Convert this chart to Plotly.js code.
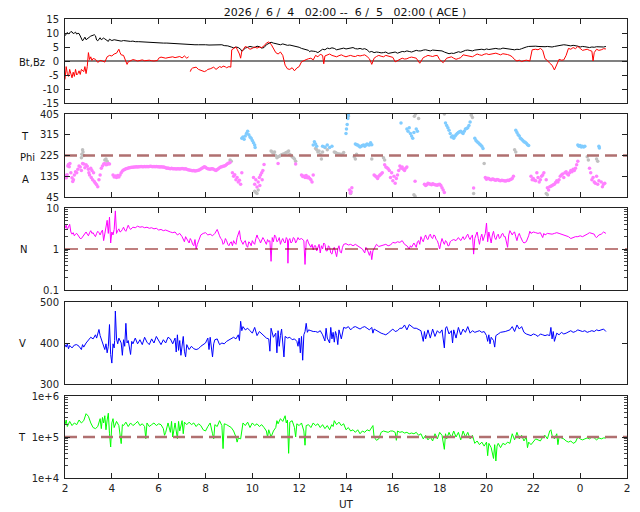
<!DOCTYPE html>
<html><head><meta charset="utf-8">
<script src="https://cdn.plot.ly/plotly-3.0.1.min.js"></script>
<style>html,body{margin:0;padding:0;background:#fff}#chart{width:640px;height:512px}</style>
</head><body><div id="chart"></div>
<script>
// ---------- tick labels ----------
const hourTicks = [2,4,6,8,10,12,14,16,18,20,22,24,26];
const hourLabels = ['2','4','6','8','10','12','14','16','18','20','22','0','2'];
const xRange = [2, 26];
const bTicks = [-15,-10,-5,0,5,10,15];
const bLabels = ['-15','-10','-5','0','5','10','15'];
const phiTicks = [45,135,225,315,405];
const nTicks = [0.1,1,10];
const nLabels = ['0.1','1','10'];
const vTicks = [300,400,500];
const tTicks = [1e4,1e5,1e6];
const tLabels = ['1e+4','1e+5','1e+6'];
const refB = 0, refPhi = 225, refN = 1, refT = 1e5;

// ---------- Bt [hour, nT] ----------
const btPts = [[2.0,9.0],[2.05,9.8],[2.1,10.2],[2.15,9.6],[2.2,9.9],[2.25,10.5],[2.3,10.4],[2.35,9.8],[2.4,10.0],[2.45,10.3],[2.5,9.6],[2.55,9.9],[2.6,9.8],[2.65,9.0],[2.7,8.0],[2.75,7.2],[2.8,7.8],[2.85,8.5],[2.9,7.6],[2.95,8.0],[3.0,8.2],[3.05,8.6],[3.1,8.9],[3.2,9.2],[3.25,9.4],[3.3,9.0],[3.35,7.5],[3.4,7.2],[3.45,8.0],[3.5,8.3],[3.55,7.6],[3.6,7.8],[3.65,8.2],[3.7,7.9],[3.8,7.4],[3.85,7.0],[3.9,7.8],[3.95,7.6],[4.0,7.3],[4.1,7.6],[4.2,7.4],[4.3,7.2],[4.4,7.1],[4.5,7.3],[4.6,7.2],[4.7,7.0],[4.8,7.0],[4.9,7.1],[5.0,6.9],[5.15,6.9],[5.3,6.8],[5.45,6.7],[5.6,6.6],[5.75,6.6],[5.9,6.5],[6.05,6.5],[6.2,6.4],[6.35,6.4],[6.5,6.3],[6.65,6.3],[6.8,6.2],[6.95,6.1],[7.1,6.1],[7.25,6.0],[7.4,5.9],[7.55,5.8],[7.7,5.8],[7.85,5.9],[8.0,5.8],[8.15,5.7],[8.3,5.7],[8.45,5.6],[8.6,5.6],[8.7,5.8],[8.8,5.5],[8.95,5.4],[9.1,5.0],[9.2,4.7],[9.3,5.0],[9.4,4.8],[9.5,4.2],[9.55,3.5],[9.6,3.8],[9.65,4.3],[9.7,4.6],[9.8,4.9],[9.9,5.2],[10.0,5.0],[10.1,4.8],[10.2,5.3],[10.3,5.1],[10.4,4.6],[10.5,4.8],[10.6,5.8],[10.7,6.3],[10.75,6.6],[10.8,6.7],[10.9,6.4],[11.0,6.2],[11.1,6.0],[11.2,5.8],[11.3,6.1],[11.4,5.8],[11.5,5.6],[11.6,5.7],[11.7,5.5],[11.8,5.4],[11.9,5.2],[12.0,4.9],[12.1,4.5],[12.2,4.3],[12.3,4.0],[12.4,3.8],[12.45,3.3],[12.5,3.6],[12.6,3.5],[12.7,3.4],[12.8,3.0],[12.85,3.3],[12.9,3.6],[13.0,4.2],[13.1,4.0],[13.2,4.6],[13.3,4.4],[13.4,4.7],[13.5,4.5],[13.6,4.0],[13.7,4.2],[13.8,4.5],[13.9,4.6],[14.0,4.3],[14.1,4.4],[14.2,4.6],[14.3,4.8],[14.4,4.4],[14.5,4.3],[14.6,4.5],[14.7,4.2],[14.8,4.4],[14.9,4.0],[15.0,3.2],[15.1,3.4],[15.2,3.0],[15.3,3.2],[15.4,3.1],[15.5,2.9],[15.6,3.0],[15.7,3.2],[15.8,2.7],[15.9,2.9],[16.0,3.0],[16.1,3.2],[16.2,2.8],[16.3,3.0],[16.4,3.4],[16.5,3.3],[16.6,3.6],[16.7,3.4],[16.8,3.2],[16.9,3.5],[17.0,3.8],[17.1,3.6],[17.2,3.6],[17.3,3.9],[17.4,4.0],[17.5,3.8],[17.6,3.6],[17.7,3.9],[17.8,3.8],[17.9,3.6],[18.0,3.5],[18.1,3.6],[18.2,3.2],[18.3,2.8],[18.4,2.6],[18.5,2.8],[18.6,2.7],[18.7,3.0],[18.8,3.3],[18.9,3.1],[19.0,3.5],[19.1,3.8],[19.2,3.9],[19.3,3.7],[19.4,3.6],[19.5,3.9],[19.6,4.0],[19.7,4.2],[19.8,4.2],[19.9,4.0],[20.0,4.3],[20.1,4.1],[20.2,4.2],[20.3,4.4],[20.4,4.5],[20.5,4.3],[20.6,4.3],[20.7,4.6],[20.8,4.5],[20.9,4.3],[21.0,4.2],[21.1,4.1],[21.2,4.0],[21.3,4.2],[21.4,4.1],[21.5,4.4],[21.6,4.8],[21.7,5.0],[21.8,5.2],[21.9,5.3],[22.0,5.4],[22.1,5.3],[22.2,5.2],[22.3,5.1],[22.4,5.0],[22.5,5.1],[22.6,5.2],[22.7,5.1],[22.8,5.0],[22.9,5.2],[23.0,5.4],[23.1,5.5],[23.2,5.6],[23.3,5.8],[23.4,5.7],[23.5,5.6],[23.6,5.4],[23.7,5.6],[23.8,5.5],[23.9,5.3],[24.0,5.0],[24.1,5.2],[24.2,5.1],[24.3,4.9],[24.4,4.8],[24.5,5.0],[24.6,4.9],[24.7,5.1],[24.8,5.0],[24.9,5.1],[25.0,5.0],[25.1,5.2]];

// ---------- Bz [hour, nT] (null = data gap) ----------
const bzPts = [[2.0,-6.6],[2.02,-3.5],[2.05,-2.0],[2.1,-4.5],[2.15,-5.5],[2.2,-3.0],[2.25,-5.0],[2.3,-6.0],[2.35,-4.0],[2.4,-5.5],[2.45,-3.0],[2.5,-5.0],[2.55,-4.5],[2.6,-3.5],[2.65,-4.8],[2.7,-3.0],[2.8,-3.8],[2.85,-2.0],[2.9,-4.5],[2.95,-2.0],[3.0,3.0],[3.05,0.5],[3.1,1.5],[3.15,0.2],[3.2,0.9],[3.3,0.6],[3.4,-0.5],[3.5,0.2],[3.6,0.0],[3.7,-0.4],[3.8,1.5],[3.9,2.0],[4.0,1.8],[4.1,2.5],[4.2,2.8],[4.25,3.5],[4.3,4.2],[4.35,3.0],[4.4,2.2],[4.5,2.0],[4.6,-0.5],[4.65,-1.2],[4.7,-0.3],[4.8,0.2],[4.9,0.5],[5.0,0.3],[5.1,0.0],[5.2,0.2],[5.3,0.4],[5.4,0.1],[5.5,0.2],[5.6,0.3],[5.7,0.1],[5.8,0.0],[5.95,0.2],[6.0,1.0],[6.1,1.4],[6.2,1.3],[6.3,1.0],[6.4,1.2],[6.5,1.3],[6.6,1.5],[6.7,1.2],[6.8,1.4],[6.9,1.6],[7.0,1.1],[7.1,1.8],[7.2,1.0],[7.28,1.5],[7.32,null],[7.35,-3.8],[7.4,-2.8],[7.45,-2.5],[7.55,-2.4],[7.6,-2.2],[7.7,-3.0],[7.8,-3.3],[7.85,-3.6],[7.95,-3.8],[8.05,-3.4],[8.1,-3.0],[8.2,-2.8],[8.25,-2.5],[8.35,-2.2],[8.45,-3.0],[8.5,-2.6],[8.6,-2.0],[8.7,-2.3],[8.75,-1.8],[8.85,-2.1],[8.9,-2.4],[9.0,-2.0],[9.08,-2.2],[9.12,4.0],[9.2,4.6],[9.3,5.0],[9.35,4.2],[9.45,2.5],[9.5,1.0],[9.55,3.5],[9.6,4.0],[9.7,5.2],[9.8,4.8],[9.9,4.2],[10.0,4.5],[10.1,5.0],[10.2,4.6],[10.3,5.0],[10.4,4.8],[10.5,5.4],[10.6,6.4],[10.7,6.8],[10.8,6.0],[10.9,4.5],[11.0,3.0],[11.1,2.5],[11.2,3.2],[11.3,2.0],[11.4,-1.5],[11.5,-2.8],[11.6,-3.0],[11.7,-2.4],[11.8,-3.5],[11.9,-2.5],[12.0,-2.0],[12.1,-0.3],[12.2,0.2],[12.3,0.5],[12.4,0.8],[12.5,1.0],[12.6,0.4],[12.7,2.0],[12.8,1.5],[12.9,2.4],[13.0,2.0],[13.05,-1.0],[13.1,1.8],[13.2,2.2],[13.3,2.5],[13.4,2.0],[13.5,1.8],[13.6,1.5],[13.7,1.9],[13.8,2.2],[13.9,1.8],[14.0,1.5],[14.1,1.8],[14.2,2.0],[14.3,1.7],[14.4,1.6],[14.5,2.0],[14.6,1.8],[14.7,2.0],[14.8,2.2],[14.9,1.6],[15.0,0.8],[15.1,-1.2],[15.2,1.0],[15.3,1.6],[15.4,2.0],[15.5,1.7],[15.6,1.5],[15.7,2.0],[15.8,1.8],[15.9,1.5],[16.0,1.3],[16.1,-0.3],[16.2,0.2],[16.3,0.6],[16.4,1.0],[16.5,0.7],[16.6,0.8],[16.7,1.2],[16.8,1.4],[16.9,1.2],[17.0,1.0],[17.15,-0.8],[17.3,1.2],[17.4,1.6],[17.5,2.0],[17.6,1.8],[17.7,1.6],[17.8,1.9],[17.9,2.0],[18.0,0.5],[18.15,-0.6],[18.3,1.0],[18.4,1.3],[18.5,1.5],[18.6,1.0],[18.7,0.6],[18.8,0.9],[18.9,1.2],[19.0,2.2],[19.1,2.0],[19.2,1.8],[19.3,1.6],[19.4,1.5],[19.5,2.0],[19.6,2.5],[19.7,2.2],[19.8,2.0],[19.9,2.4],[20.0,2.6],[20.1,2.3],[20.2,2.4],[20.3,2.6],[20.4,2.8],[20.5,2.5],[20.6,2.2],[20.7,2.6],[20.8,2.5],[20.9,2.3],[21.0,2.0],[21.1,1.5],[21.2,0.5],[21.3,0.0],[21.4,0.3],[21.5,-0.2],[21.6,0.1],[21.7,0.3],[21.85,0.0],[21.95,4.0],[22.1,4.2],[22.2,4.0],[22.3,4.5],[22.4,3.8],[22.5,0.8],[22.6,0.2],[22.7,-0.8],[22.8,-1.5],[22.9,-3.2],[23.0,-1.0],[23.1,0.6],[23.2,0.3],[23.3,0.4],[23.4,2.0],[23.5,4.5],[23.6,4.2],[23.7,4.8],[23.8,4.4],[23.9,5.2],[24.0,4.5],[24.1,3.8],[24.2,4.0],[24.3,4.2],[24.4,3.8],[24.5,3.5],[24.55,0.0],[24.6,3.0],[24.7,4.2],[24.8,3.8],[24.9,4.0],[25.0,4.4],[25.1,4.3]];

// ---------- Phi [hour, deg] by colour class: A (away), grey (mixed), T (toward) ----------
const phiAPts = [[2.0,130],[2.03,138],[2.06,128],[2.09,142],[2.12,180],[2.15,186],[2.18,176],[2.21,190],[2.25,150],[2.3,128],[2.33,112],[2.36,120],[2.4,140],[2.45,155],[2.5,150],[2.55,165],[2.6,180],[2.65,175],[2.7,160],[2.75,190],[2.8,188],[2.85,172],[2.9,185],[2.95,178],[3.0,165],[3.02,150],[3.05,140],[3.1,170],[3.12,130],[3.15,160],[3.18,120],[3.22,150],[3.25,112],[3.3,105],[3.35,98],[3.4,90],[3.45,120],[3.5,140],[3.55,170],[3.6,180],[3.65,188],[3.7,190],[3.75,185],[3.8,186],[3.85,190],[3.9,188],[4.05,140],[4.1,132],[4.15,136],[4.2,130],[4.25,138],[4.3,132],[4.35,140],[4.4,150],[4.45,158],[4.5,162],[4.55,164],[4.6,167],[4.65,169],[4.7,171],[4.75,172],[4.8,173],[4.85,174],[4.9,174],[4.95,175],[5.0,175],[5.05,176],[5.1,175],[5.15,176],[5.2,176],[5.25,177],[5.3,176],[5.35,176],[5.4,177],[5.45,176],[5.5,177],[5.55,176],[5.6,177],[5.65,178],[5.7,177],[5.75,176],[5.8,177],[5.85,176],[5.9,177],[5.95,176],[6.0,176],[6.05,175],[6.1,176],[6.15,175],[6.2,175],[6.25,174],[6.3,172],[6.35,170],[6.4,171],[6.45,169],[6.5,168],[6.55,170],[6.6,168],[6.65,167],[6.7,168],[6.75,166],[6.8,167],[6.85,168],[6.9,166],[6.95,168],[7.0,169],[7.05,167],[7.1,166],[7.15,168],[7.2,165],[7.25,163],[7.3,162],[7.35,161],[7.4,160],[7.45,159],[7.5,160],[7.55,158],[7.6,159],[7.65,160],[7.7,161],[7.75,163],[7.8,166],[7.85,170],[7.9,173],[7.95,176],[8.0,174],[8.05,170],[8.1,168],[8.15,166],[8.2,165],[8.25,167],[8.3,168],[8.35,165],[8.4,162],[8.45,160],[8.5,164],[8.55,168],[8.6,172],[8.65,175],[8.7,176],[8.75,178],[8.8,180],[8.85,182],[8.9,186],[8.95,190],[9.0,192],[9.05,195],[9.15,150],[9.2,135],[9.25,142],[9.3,120],[9.35,130],[9.4,110],[9.45,118],[9.5,100],[9.55,150],[10.05,130],[10.1,100],[10.15,120],[10.2,88],[10.25,110],[10.3,130],[10.32,95],[10.35,140],[10.4,150],[10.42,120],[10.45,160],[10.5,186],[11.1,190],[11.85,188],[12.1,140],[12.15,134],[12.2,136],[12.25,130],[12.3,138],[12.35,128],[12.4,132],[12.45,125],[12.5,120],[12.55,110],[12.6,140],[14.15,75],[14.18,62],[14.22,68],[14.25,85],[15.2,140],[15.25,136],[15.3,132],[15.35,125],[15.4,135],[15.45,140],[15.5,145],[15.55,150],[15.65,185],[15.7,175],[15.75,172],[15.8,168],[15.85,160],[15.9,130],[15.95,150],[16.0,115],[16.05,135],[16.1,105],[16.15,125],[16.2,140],[16.25,160],[16.3,180],[16.35,170],[16.4,175],[16.45,165],[16.5,160],[16.55,170],[16.6,175],[16.95,113],[17.35,100],[17.4,95],[17.45,98],[17.5,105],[17.55,102],[17.6,100],[17.65,98],[17.7,102],[17.75,100],[17.8,98],[17.85,97],[17.9,96],[17.95,99],[18.0,100],[18.05,95],[18.1,85],[18.15,75],[18.2,65],[19.45,84],[19.95,130],[20.0,122],[20.05,126],[20.1,125],[20.15,121],[20.2,120],[20.25,123],[20.3,122],[20.35,119],[20.4,118],[20.45,121],[20.5,120],[20.55,117],[20.6,115],[20.65,118],[20.7,117],[20.75,115],[20.8,114],[20.85,116],[20.9,118],[20.95,117],[21.0,120],[21.05,122],[21.1,125],[21.15,135],[21.9,135],[21.95,120],[22.0,125],[22.05,118],[22.1,115],[22.15,150],[22.2,130],[22.25,110],[22.3,120],[22.35,135],[22.4,140],[22.45,150],[22.55,120],[22.6,85],[22.65,75],[22.7,90],[22.75,92],[22.8,95],[22.85,98],[22.9,100],[22.95,108],[23.0,115],[23.05,110],[23.1,120],[23.15,135],[23.2,140],[23.25,145],[23.3,130],[23.35,150],[23.4,155],[23.45,145],[23.5,140],[23.55,150],[23.6,160],[23.65,155],[23.7,165],[23.75,160],[23.8,170],[23.85,185],[23.9,200],[24.4,170],[24.45,150],[24.5,120],[24.55,130],[24.6,110],[24.65,105],[24.7,135],[24.75,100],[24.8,115],[24.9,110],[24.95,90],[25.0,100],[25.05,105]];
const phiGPts = [[2.7,215],[2.72,230],[2.75,250],[2.77,240],[2.8,225],[3.7,205],[3.75,210],[3.8,200],[9.05,205],[9.1,200],[10.1,70],[10.15,65],[10.2,60],[10.25,75],[10.8,245],[10.85,240],[10.9,235],[10.95,240],[11.0,225],[11.05,215],[11.1,220],[11.15,222],[11.2,225],[11.25,228],[11.3,230],[11.35,232],[11.4,235],[11.45,238],[11.5,240],[11.55,245],[11.6,230],[11.65,225],[11.7,220],[11.75,215],[11.8,210],[11.85,200],[12.7,255],[12.75,250],[12.8,240],[12.85,245],[12.9,230],[12.95,210],[13.0,240],[13.1,260],[13.2,250],[13.5,240],[13.55,238],[13.6,235],[13.65,232],[13.7,232],[13.75,230],[13.8,228],[13.85,232],[13.9,238],[14.05,405],[14.1,395],[14.2,60],[14.35,220],[14.4,210],[14.45,230],[15.1,210],[15.6,215],[15.65,205],[16.9,55],[16.92,395],[16.95,48],[16.97,405],[17.1,385],[18.2,405],[19.35,400],[19.4,390],[19.45,60],[19.9,190],[21.2,250],[21.25,240],[22.55,60],[22.6,55],[24.3,220],[24.35,205],[24.7,210],[24.75,200]];
const phiTPts = [[9.55,300],[9.6,305],[9.65,295],[9.7,310],[9.75,320],[9.8,330],[9.85,315],[9.9,305],[9.95,300],[10.0,290],[10.05,280],[10.1,270],[10.12,260],[12.6,270],[12.65,285],[12.7,275],[12.75,265],[13.0,265],[13.1,262],[13.2,270],[13.3,260],[13.4,265],[14.0,320],[14.02,340],[14.05,360],[14.08,385],[14.1,400],[14.4,275],[14.45,272],[14.5,270],[14.55,266],[14.6,262],[14.65,265],[14.7,268],[14.75,270],[14.8,265],[14.85,270],[14.9,275],[14.95,272],[15.0,270],[15.05,280],[15.1,272],[16.35,366],[16.6,340],[16.65,330],[16.7,345],[16.75,320],[16.8,310],[16.85,300],[16.9,325],[17.0,340],[17.05,330],[18.25,366],[18.3,355],[18.35,345],[18.4,335],[18.45,320],[18.5,305],[18.55,310],[18.6,300],[18.65,308],[18.7,315],[18.75,320],[18.8,325],[18.85,328],[18.9,330],[18.95,325],[19.0,320],[19.05,330],[19.1,340],[19.15,342],[19.2,345],[19.25,355],[19.3,370],[19.5,300],[19.55,290],[19.6,285],[19.65,280],[19.7,275],[19.75,270],[19.8,265],[19.85,255],[21.25,335],[21.3,325],[21.35,315],[21.4,310],[21.45,300],[21.5,295],[21.55,290],[21.6,285],[21.65,282],[21.7,278],[21.75,272],[21.8,268],[23.9,270],[23.95,265],[24.0,268],[24.05,262],[24.1,265],[24.15,262],[24.2,265],[24.8,265],[24.82,258]];

// ---------- N [hour, cm^-3] ----------
const nPts = [[2.0,3.2],[2.05,3.8],[2.1,3.0],[2.15,3.6],[2.2,4.0],[2.25,2.6],[2.3,2.3],[2.35,2.5],[2.4,2.1],[2.45,2.3],[2.5,2.4],[2.55,2.2],[2.6,2.0],[2.65,1.8],[2.7,1.8],[2.75,2.0],[2.8,2.2],[2.85,2.5],[2.9,2.6],[2.95,2.3],[3.0,2.1],[3.05,2.5],[3.1,2.8],[3.15,2.4],[3.2,2.5],[3.25,2.2],[3.3,2.0],[3.35,2.4],[3.4,2.7],[3.45,2.5],[3.5,2.2],[3.55,2.6],[3.6,2.9],[3.65,1.6],[3.7,2.5],[3.75,3.2],[3.8,5.0],[3.85,2.4],[3.9,6.0],[3.95,1.4],[4.0,2.6],[4.05,2.2],[4.1,3.0],[4.15,8.5],[4.2,2.4],[4.25,2.8],[4.3,3.1],[4.35,2.6],[4.4,2.7],[4.45,3.0],[4.5,3.4],[4.55,2.9],[4.6,2.7],[4.65,3.2],[4.7,3.8],[4.75,3.3],[4.8,3.0],[4.9,3.4],[5.0,3.3],[5.1,3.6],[5.2,3.4],[5.3,3.5],[5.4,3.3],[5.5,3.4],[5.6,3.2],[5.7,3.3],[5.8,3.1],[5.9,3.2],[6.0,2.9],[6.1,3.0],[6.2,2.8],[6.3,2.9],[6.4,2.7],[6.5,2.6],[6.6,2.5],[6.7,2.6],[6.8,2.2],[6.9,2.4],[7.0,2.0],[7.05,1.7],[7.1,1.5],[7.15,2.0],[7.2,1.8],[7.25,1.6],[7.3,1.4],[7.35,1.8],[7.4,1.6],[7.45,1.3],[7.5,1.2],[7.55,1.7],[7.6,1.0],[7.65,1.3],[7.7,1.5],[7.75,1.9],[7.8,2.2],[7.9,2.4],[8.0,2.5],[8.1,2.2],[8.2,2.3],[8.3,2.1],[8.4,2.4],[8.5,3.0],[8.55,2.4],[8.6,2.1],[8.65,1.8],[8.7,1.7],[8.75,1.3],[8.8,1.4],[8.85,1.8],[8.9,1.6],[8.95,1.3],[9.0,1.2],[9.05,1.4],[9.1,1.5],[9.15,1.2],[9.2,1.6],[9.25,1.4],[9.3,1.3],[9.35,1.9],[9.4,2.5],[9.45,2.8],[9.5,1.7],[9.55,1.4],[9.6,1.3],[9.65,1.5],[9.7,1.6],[9.75,1.2],[9.8,1.1],[9.85,1.5],[9.9,1.4],[9.95,1.2],[10.0,1.6],[10.05,1.4],[10.1,1.3],[10.15,1.8],[10.2,2.2],[10.25,1.8],[10.3,1.7],[10.35,1.4],[10.4,1.6],[10.45,1.9],[10.5,1.7],[10.55,1.4],[10.6,1.3],[10.65,1.7],[10.7,1.5],[10.75,1.6],[10.8,0.5],[10.85,1.9],[10.9,1.5],[10.95,2.2],[11.0,2.0],[11.05,1.5],[11.1,1.6],[11.15,1.9],[11.2,1.3],[11.25,1.6],[11.3,1.8],[11.35,1.5],[11.4,1.4],[11.45,1.9],[11.5,1.7],[11.52,0.45],[11.55,1.6],[11.6,1.8],[11.65,1.4],[11.7,1.5],[11.75,1.9],[11.8,1.8],[11.85,1.4],[11.9,1.6],[11.95,1.9],[12.0,1.7],[12.1,1.8],[12.2,1.6],[12.25,0.42],[12.3,1.5],[12.35,1.7],[12.4,1.4],[12.45,1.2],[12.5,1.1],[12.55,1.3],[12.6,0.95],[12.65,1.2],[12.7,1.2],[12.75,0.9],[12.8,1.1],[12.85,1.3],[12.9,0.8],[12.95,1.2],[13.0,1.0],[13.05,1.4],[13.1,1.3],[13.15,0.9],[13.2,0.9],[13.25,1.2],[13.3,1.1],[13.35,0.8],[13.4,0.75],[13.45,1.0],[13.5,1.1],[13.55,0.9],[13.6,0.65],[13.65,1.0],[13.7,1.2],[13.75,0.85],[13.8,0.8],[13.85,1.1],[13.9,1.3],[14.0,1.35],[14.1,1.25],[14.2,1.3],[14.3,1.2],[14.4,1.3],[14.5,1.2],[14.6,1.1],[14.7,1.0],[14.8,0.8],[14.85,1.1],[14.9,1.0],[15.0,0.7],[15.05,0.9],[15.1,0.55],[15.15,0.9],[15.2,1.0],[15.3,1.3],[15.4,1.15],[15.5,1.2],[15.6,1.25],[15.7,1.3],[15.8,1.2],[15.9,1.25],[16.0,1.45],[16.1,1.4],[16.2,1.5],[16.3,1.45],[16.4,1.6],[16.5,1.3],[16.6,1.2],[16.7,1.0],[16.75,1.2],[16.8,1.1],[16.9,1.4],[17.0,1.1],[17.05,1.5],[17.1,1.6],[17.15,1.3],[17.2,2.0],[17.25,1.7],[17.3,1.5],[17.35,1.9],[17.4,2.2],[17.45,1.8],[17.5,1.7],[17.55,2.1],[17.6,2.3],[17.65,1.9],[17.7,1.8],[17.75,2.2],[17.8,2.1],[17.85,1.7],[17.9,1.6],[17.95,1.3],[18.0,1.0],[18.05,1.4],[18.1,1.8],[18.15,1.5],[18.2,1.3],[18.25,1.6],[18.3,1.5],[18.35,1.2],[18.4,1.2],[18.45,1.5],[18.5,1.6],[18.6,1.7],[18.7,1.6],[18.8,1.9],[18.9,1.6],[18.95,1.8],[19.0,2.0],[19.05,1.7],[19.1,1.8],[19.15,2.1],[19.2,2.3],[19.25,1.9],[19.3,1.7],[19.35,2.0],[19.4,2.2],[19.45,0.75],[19.5,1.8],[19.55,2.2],[19.6,2.6],[19.65,1.8],[19.7,1.3],[19.75,1.9],[19.8,2.3],[19.85,1.6],[19.9,2.0],[19.95,2.4],[20.0,4.3],[20.05,1.5],[20.1,2.6],[20.15,1.8],[20.2,1.4],[20.25,2.2],[20.3,2.7],[20.35,1.9],[20.4,1.7],[20.45,2.1],[20.5,2.3],[20.55,1.8],[20.6,1.9],[20.65,2.3],[20.7,2.4],[20.75,2.0],[20.8,2.0],[20.9,1.1],[20.95,2.2],[21.0,2.8],[21.05,2.4],[21.1,2.2],[21.15,2.5],[21.2,2.6],[21.25,2.0],[21.3,1.6],[21.35,2.1],[21.4,2.4],[21.45,2.0],[21.5,1.7],[21.55,1.5],[21.6,1.4],[21.7,1.5],[21.8,2.1],[21.85,2.7],[21.9,2.4],[22.0,2.6],[22.1,2.5],[22.2,2.4],[22.3,2.5],[22.4,1.9],[22.45,2.4],[22.5,2.2],[22.6,2.4],[22.7,2.3],[22.8,2.3],[22.9,2.4],[23.0,2.5],[23.1,2.4],[23.2,2.3],[23.3,2.2],[23.4,2.1],[23.5,2.0],[23.6,1.8],[23.7,1.9],[23.8,2.0],[23.9,2.0],[24.0,2.1],[24.1,2.0],[24.2,2.1],[24.3,2.3],[24.4,2.5],[24.5,2.4],[24.6,2.3],[24.65,2.0],[24.7,1.9],[24.8,2.2],[24.9,2.3],[25.0,2.6],[25.1,2.4]];

// ---------- V [hour, km/s] ----------
const vPts = [[2.0,396],[2.05,390],[2.1,398],[2.15,386],[2.2,394],[2.3,388],[2.4,395],[2.5,396],[2.6,392],[2.7,384],[2.75,396],[2.8,390],[2.9,400],[3.0,408],[3.1,414],[3.2,410],[3.3,420],[3.35,412],[3.4,424],[3.45,433],[3.5,418],[3.6,402],[3.65,392],[3.7,384],[3.75,398],[3.8,376],[3.85,392],[3.9,445],[3.95,372],[4.0,351],[4.05,398],[4.1,388],[4.12,406],[4.15,478],[4.2,410],[4.25,398],[4.3,412],[4.4,400],[4.45,370],[4.5,408],[4.55,392],[4.6,448],[4.65,400],[4.7,406],[4.8,372],[4.85,404],[4.9,398],[5.0,412],[5.1,398],[5.2,408],[5.3,396],[5.4,414],[5.5,402],[5.6,396],[5.7,410],[5.8,400],[5.9,416],[6.0,404],[6.1,396],[6.2,408],[6.3,400],[6.4,414],[6.5,410],[6.6,398],[6.7,412],[6.75,378],[6.8,420],[6.85,382],[6.9,406],[6.95,370],[7.0,400],[7.05,416],[7.1,380],[7.15,366],[7.2,396],[7.3,384],[7.4,392],[7.5,386],[7.6,384],[7.7,386],[7.8,392],[7.9,396],[8.0,400],[8.1,412],[8.15,384],[8.2,414],[8.3,366],[8.35,398],[8.4,408],[8.5,410],[8.6,396],[8.7,400],[8.8,398],[8.9,404],[9.0,408],[9.1,412],[9.2,414],[9.3,410],[9.4,420],[9.45,406],[9.5,453],[9.55,430],[9.6,440],[9.7,432],[9.8,436],[9.9,430],[10.0,424],[10.1,438],[10.2,418],[10.3,428],[10.4,422],[10.5,416],[10.6,412],[10.7,410],[10.75,380],[10.8,436],[10.9,414],[11.0,424],[11.05,376],[11.1,430],[11.15,392],[11.2,418],[11.25,434],[11.3,400],[11.35,366],[11.4,416],[11.5,412],[11.6,414],[11.7,408],[11.8,410],[11.9,404],[11.95,392],[12.0,412],[12.05,376],[12.1,416],[12.15,358],[12.2,420],[12.25,428],[12.3,448],[12.35,426],[12.4,432],[12.5,430],[12.6,428],[12.7,428],[12.8,426],[12.9,430],[13.0,420],[13.1,405],[13.15,436],[13.2,412],[13.3,400],[13.35,438],[13.4,410],[13.45,426],[13.5,402],[13.55,428],[13.6,418],[13.65,396],[13.7,432],[13.8,410],[13.9,438],[14.0,436],[14.1,440],[14.2,432],[14.3,438],[14.4,440],[14.5,436],[14.6,434],[14.7,438],[14.8,440],[14.9,436],[15.0,432],[15.1,438],[15.15,424],[15.2,434],[15.3,430],[15.4,428],[15.5,424],[15.6,422],[15.7,420],[15.8,424],[15.9,430],[16.0,434],[16.1,428],[16.2,430],[16.3,436],[16.4,436],[16.5,444],[16.6,432],[16.7,445],[16.8,440],[16.9,436],[17.0,436],[17.1,432],[17.2,430],[17.3,404],[17.35,428],[17.4,410],[17.5,432],[17.6,412],[17.7,434],[17.8,416],[17.9,430],[18.0,424],[18.1,432],[18.2,388],[18.25,436],[18.3,440],[18.4,422],[18.5,430],[18.55,400],[18.6,432],[18.7,412],[18.8,438],[18.9,420],[19.0,434],[19.1,426],[19.2,440],[19.3,424],[19.4,430],[19.5,426],[19.6,428],[19.7,430],[19.8,426],[19.9,428],[20.0,418],[20.05,404],[20.1,420],[20.15,398],[20.2,414],[20.3,406],[20.35,390],[20.4,418],[20.5,422],[20.6,426],[20.8,428],[21.0,432],[21.1,440],[21.2,428],[21.3,444],[21.4,434],[21.5,440],[21.6,426],[21.7,422],[21.8,420],[21.9,418],[22.0,422],[22.1,420],[22.2,416],[22.3,422],[22.4,420],[22.5,418],[22.6,420],[22.7,418],[22.75,438],[22.8,410],[22.85,428],[22.9,404],[23.0,424],[23.1,420],[23.2,426],[23.3,422],[23.4,424],[23.5,428],[23.6,430],[23.7,426],[23.8,428],[23.9,432],[24.0,430],[24.1,428],[24.2,430],[24.3,426],[24.4,428],[24.5,430],[24.6,428],[24.7,432],[24.8,430],[24.9,432],[25.0,434],[25.1,428]];

// ---------- T [hour, K] ----------
const tPts = [[2.0,2.0e5],[2.05,2.6e5],[2.1,1.8e5],[2.2,2.4e5],[2.3,1.9e5],[2.4,2.2e5],[2.5,2.0e5],[2.6,2.6e5],[2.7,2.2e5],[2.8,2.5e5],[2.9,3.7e5],[3.0,3.2e5],[3.1,2.2e5],[3.2,1.7e5],[3.3,1.6e5],[3.4,1.8e5],[3.5,2.8e5],[3.55,1.6e5],[3.6,3.0e5],[3.65,2.2e5],[3.7,3.3e5],[3.75,1.5e5],[3.8,2.6e5],[3.85,3.8e5],[3.9,1.2e5],[3.95,5.7e4],[4.0,2.2e5],[4.05,2.8e5],[4.1,1.7e5],[4.2,2.4e5],[4.3,1.9e5],[4.35,1.2e5],[4.4,6.9e4],[4.45,2.0e5],[4.5,1.9e5],[4.6,2.3e5],[4.7,1.8e5],[4.8,2.2e5],[4.9,1.9e5],[5.0,2.1e5],[5.1,2.4e5],[5.2,1.9e5],[5.3,2.1e5],[5.4,1.8e5],[5.45,9.1e4],[5.5,2.2e5],[5.6,1.8e5],[5.7,2.0e5],[5.8,2.2e5],[5.9,1.9e5],[6.0,2.1e5],[6.1,2.0e5],[6.2,1.6e5],[6.25,1.1e5],[6.3,1.3e5],[6.4,2.2e5],[6.5,1.3e5],[6.55,2.4e5],[6.6,1.0e5],[6.7,2.2e5],[6.75,1.3e5],[6.8,9.1e4],[6.85,2.4e5],[6.9,1.4e5],[7.0,2.5e5],[7.05,1.2e5],[7.1,2.3e5],[7.2,2.0e5],[7.3,2.3e5],[7.4,2.0e5],[7.5,2.2e5],[7.6,1.8e5],[7.7,2.1e5],[7.8,1.9e5],[7.9,1.5e5],[8.0,1.4e5],[8.1,1.8e5],[8.2,2.2e5],[8.3,1.2e5],[8.35,9.0e4],[8.4,2.0e5],[8.5,1.8e5],[8.6,2.5e5],[8.7,1.9e5],[8.75,5.2e4],[8.8,2.1e5],[8.9,2.0e5],[9.0,1.8e5],[9.1,1.7e5],[9.2,1.4e5],[9.3,1.0e5],[9.35,7.5e4],[9.4,9.5e4],[9.5,9.0e4],[9.55,1.3e5],[9.6,2.2e5],[9.7,1.9e5],[9.8,2.3e5],[9.9,1.7e5],[10.0,2.2e5],[10.1,1.9e5],[10.2,2.1e5],[10.3,1.8e5],[10.4,2.0e5],[10.5,1.7e5],[10.6,1.4e5],[10.65,1.0e5],[10.7,1.5e5],[10.8,1.0e5],[10.85,1.2e5],[10.9,1.4e5],[11.0,1.7e5],[11.05,2.5e5],[11.1,2.1e5],[11.2,2.8e5],[11.3,2.4e5],[11.4,3.3e5],[11.45,2.2e5],[11.5,2.6e5],[11.55,4.0e4],[11.6,2.3e5],[11.7,2.5e5],[11.8,1.7e5],[11.85,1.0e5],[11.9,2.1e5],[12.0,1.9e5],[12.1,2.2e5],[12.2,1.4e5],[12.25,6.3e4],[12.3,1.9e5],[12.4,2.0e5],[12.5,1.7e5],[12.6,2.2e5],[12.7,1.9e5],[12.8,2.1e5],[12.9,1.7e5],[13.0,2.0e5],[13.1,1.6e5],[13.2,1.9e5],[13.3,1.5e5],[13.39,2.0e5],[13.45,1.8e5],[13.5,2.5e5],[13.6,2.0e5],[13.7,2.3e5],[13.8,1.9e5],[13.9,2.1e5],[14.0,1.5e5],[14.1,1.7e5],[14.2,1.4e5],[14.3,1.5e5],[14.4,1.3e5],[14.5,1.5e5],[14.6,1.2e5],[14.7,1.4e5],[14.8,1.3e5],[14.9,1.5e5],[15.0,1.4e5],[15.1,1.8e5],[15.15,1.9e5],[15.2,1.0e5],[15.3,8.3e4],[15.4,9.0e4],[15.5,1.3e5],[15.6,1.4e5],[15.7,1.35e5],[15.8,1.3e5],[15.9,1.4e5],[16.0,1.4e5],[16.1,1.3e5],[16.15,8.3e4],[16.2,1.4e5],[16.3,1.3e5],[16.4,1.35e5],[16.5,1.25e5],[16.6,1.3e5],[16.7,1.2e5],[16.8,1.25e5],[16.9,1.2e5],[17.0,1.3e5],[17.1,1.1e5],[17.2,1.2e5],[17.3,9.0e4],[17.4,1.1e5],[17.5,8.5e4],[17.6,1.0e5],[17.7,8.0e4],[17.8,1.2e5],[17.9,9.0e4],[18.0,1.3e5],[18.1,1.1e5],[18.2,5.0e4],[18.25,1.2e5],[18.3,9.0e4],[18.4,1.3e5],[18.5,9.5e4],[18.6,1.4e5],[18.7,1.0e5],[18.8,1.3e5],[18.9,8.5e4],[19.0,1.4e5],[19.1,1.0e5],[19.2,1.3e5],[19.3,9.0e4],[19.4,1.1e5],[19.5,7.0e4],[19.6,8.0e4],[19.7,6.5e4],[19.8,7.5e4],[19.9,6.0e4],[20.0,7.5e4],[20.05,3.5e4],[20.1,7.0e4],[20.2,5.5e4],[20.3,3.0e4],[20.35,6.5e4],[20.4,2.6e4],[20.45,6.0e4],[20.5,7.0e4],[20.6,5.5e4],[20.7,7.0e4],[20.8,6.5e4],[20.9,7.5e4],[21.0,7.0e4],[21.1,1.2e5],[21.2,8.5e4],[21.3,1.3e5],[21.4,9.0e4],[21.5,1.1e5],[21.6,8.0e4],[21.7,1.0e5],[21.75,5.5e4],[21.8,7.5e4],[21.9,6.5e4],[22.0,7.5e4],[22.1,9.0e4],[22.2,8.5e4],[22.3,8.0e4],[22.4,1.0e5],[22.5,1.1e5],[22.6,9.0e4],[22.7,1.4e5],[22.75,1.5e5],[22.8,1.1e5],[22.9,9.0e4],[23.0,1.2e5],[23.05,6.5e4],[23.1,1.0e5],[23.2,9.5e4],[23.3,9.0e4],[23.4,8.0e4],[23.5,7.5e4],[23.6,8.0e4],[23.7,7.0e4],[23.8,7.5e4],[23.9,1.0e5],[24.0,9.0e4],[24.1,8.5e4],[24.2,9.0e4],[24.3,9.5e4],[24.4,9.0e4],[24.5,1.0e5],[24.6,9.5e4],[24.7,8.5e4],[24.8,9.5e4],[24.9,9.0e4],[25.0,9.5e4],[25.1,9.5e4]];

// ---------- build ----------
const FONT = 'DejaVu Sans, Verdana, sans-serif';
const xDom = [65/640, 627/640];
function yd(top, bot){ return [(512-bot)/512, (512-top)/512]; }
const doms = [yd(19,103), yd(114,197), yd(208,290), yd(302,384), yd(396,478)];
const X = p => p.map(d => d[0]);
const Y = p => p.map(d => d[1]);

function xAxis(i, last){
  return {domain:xDom, anchor:'y'+(i===1?'':i), range:xRange, tickmode:'array', tickvals:hourTicks,
    ticktext:hourLabels, showticklabels:last, ticks:'inside', ticklen:5, tickcolor:'#222',
    showline:true, linecolor:'#222', linewidth:1, mirror:'ticks', showgrid:false, zeroline:false,
    tickfont:{family:FONT, size:10.5, color:'#222'}, automargin:false,
    title: last ? {text:'UT', font:{family:FONT,size:10.5,color:'#222'}, standoff:8} : {text:''}};
}
function yAxis(i, extra){
  return Object.assign({domain:doms[i-1], anchor:'x'+(i===1?'':i), ticks:'inside', ticklen:5, tickcolor:'#222',
    showline:true, linecolor:'#222', linewidth:1, mirror:'ticks', showgrid:false, zeroline:false,
    tickfont:{family:FONT, size:10, color:'#222'}, automargin:false, tickmode:'array', ticklabelstandoff:3}, extra);
}
const minorN = [0.2,0.3,0.4,0.5,0.6,0.7,0.8,0.9,2,3,4,5,6,7,8,9];
const minorT = [2e4,3e4,4e4,5e4,6e4,7e4,8e4,9e4,2e5,3e5,4e5,5e5,6e5,7e5,8e5,9e5];

const line = (x,y,xa,ya,color,w,dash) => ({x:x, y:y, xaxis:xa, yaxis:ya, type:'scatter', mode:'lines',
  line:{color:color, width:w, dash:dash||'solid'}, hoverinfo:'skip', connectgaps:false});
const pts = (x,y,xa,ya,color) => ({x:x, y:y, xaxis:xa, yaxis:ya, type:'scatter', mode:'markers',
  marker:{color:color, size:3.5, line:{width:0}}, hoverinfo:'skip'});

const data = [
  line(xRange,[refB,refB],'x','y','#808080',2),
  line(X(btPts),Y(btPts),'x','y','#000000',1),
  line(X(bzPts),Y(bzPts),'x','y','#ff0000',1),
  pts(X(phiGPts),Y(phiGPts),'x2','y2','#c0c0c0'),
  pts(X(phiAPts),Y(phiAPts),'x2','y2','#ff80ff'),
  pts(X(phiTPts),Y(phiTPts),'x2','y2','#80ccff'),
  line(xRange,[refPhi,refPhi],'x2','y2','#b07070',2.5,'12px,6px'),
  line(X(nPts),Y(nPts),'x3','y3','#ff00ff',1),
  line(xRange,[refN,refN],'x3','y3','#800000',1.2,'13px,7px'),
  line(X(vPts),Y(vPts),'x4','y4','#0000ff',1),
  line(X(tPts),Y(tPts),'x5','y5','#00ff00',1),
  line(xRange,[refT,refT],'x5','y5','#b07070',2.5,'12px,6px')
];

const ann = (txt,x,y) => ({text:txt, x:x/640, y:(512-y)/512, xref:'paper', yref:'paper', showarrow:false,
  xanchor:'center', yanchor:'middle', font:{family:FONT,size:10,color:'#111'}});

const layout = {
  width:640, height:512, margin:{l:0,r:0,t:0,b:0}, paper_bgcolor:'#fff', plot_bgcolor:'#fff', showlegend:false,
  title:{text:'2026 /\u00a0\u00a06 /\u00a0\u00a04\u00a0\u00a0\u00a002:00 -- \u00a06 /\u00a0\u00a05\u00a0\u00a0\u00a002:00 ( ACE )',
    font:{family:FONT,size:11,color:'#111'}, x:345/640, xanchor:'center', y:(512-12)/512, yanchor:'middle', xref:'paper', yref:'paper'},
  xaxis:xAxis(1,false), xaxis2:xAxis(2,false), xaxis3:xAxis(3,false), xaxis4:xAxis(4,false), xaxis5:xAxis(5,true),
  yaxis:yAxis(1,{range:[-15,15], tickvals:bTicks, ticktext:bLabels}),
  yaxis2:yAxis(2,{range:[45,405], tickvals:phiTicks}),
  yaxis3:yAxis(3,{type:'log', range:[-1,1], tickvals:nTicks, ticktext:nLabels,
    minor:{ticks:'inside', ticklen:3, tickcolor:'#444', tickmode:'array', tickvals:minorN}}),
  yaxis4:yAxis(4,{range:[300,500], tickvals:vTicks}),
  yaxis5:yAxis(5,{type:'log', range:[4,6], tickvals:tTicks, ticktext:tLabels,
    minor:{ticks:'inside', ticklen:3, tickcolor:'#444', tickmode:'array', tickvals:minorT}}),
  annotations:[ann('Bt,Bz',32,62), ann('T',25,136), ann('Phi',27,157), ann('A',25,179),
    ann('N',23,249), ann('V',22,343), ann('T',22,437)]
};
Plotly.newPlot('chart', data, layout, {staticPlot:true, displayModeBar:false});
</script></body></html>
